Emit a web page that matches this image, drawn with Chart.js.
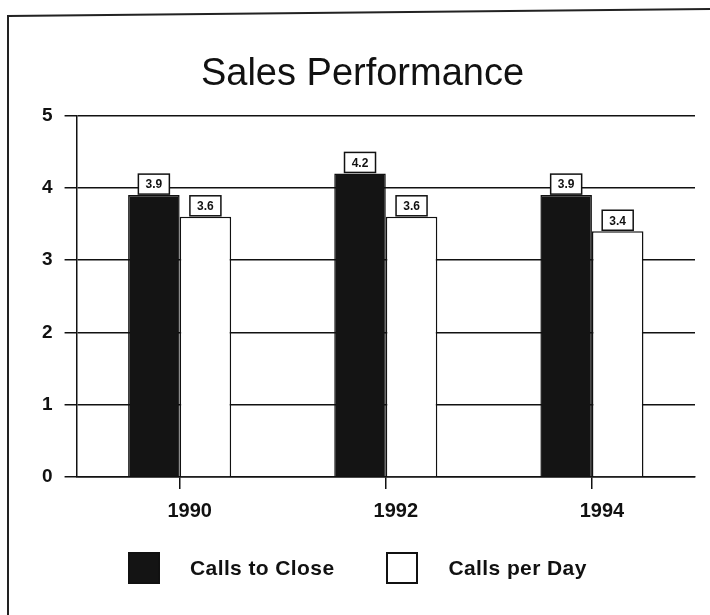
<!DOCTYPE html>
<html lang="en">
<head>
    <meta charset="UTF-8">
    <title>Sales Performance</title>
    <script src="https://cdnjs.cloudflare.com/ajax/libs/Chart.js/4.4.1/chart.umd.min.js"></script>
    <style>
        body {
            margin: 0;
            padding: 0;
            background: #ffffff;
            font-family: "Liberation Sans", Arial, sans-serif;
        }
        .wrap {
            position: relative;
            width: 710px;
            height: 615px;
        }
        .legend {
            position: absolute;
            top: 553px;
            left: 128px;
            display: flex;
            align-items: center;
            font-size: 21px;
            font-weight: bold;
            letter-spacing: 0.4px;
            color: #111;
        }
        .legend .item {
            display: flex;
            align-items: center;
            height: 30px;
        }
        .legend .item + .item {
            margin-left: 52px;
        }
        .legend .swatch {
            width: 28px;
            height: 28px;
            border: 2px solid #111;
            margin-right: 30px;
        }
    </style>
</head>
<body>
    <div class="wrap">
        <canvas id="salesChart" width="710" height="615"></canvas>
        <div class="legend" id="legend"></div>
    </div>

    <script>
        // chart data
        const years = ['1990', '1992', '1994'];
        const callsToClose = [3.9, 4.2, 3.9];
        const callsPerDay = [3.6, 3.6, 3.4];
        const yTicks = [0, 1, 2, 3, 4, 5];

        const seriesNames = ['Calls to Close', 'Calls per Day'];
        const seriesFill = ['#141414', '#ffffff'];

        // page frame (left + top edge of the scanned sheet)
        const framePlugin = {
            id: 'frame',
            beforeDraw(chart) {
                const ctx = chart.ctx;
                ctx.save();
                ctx.strokeStyle = '#222';
                ctx.lineWidth = 2;
                ctx.beginPath();
                ctx.moveTo(8, 615);
                ctx.lineTo(8, 16);
                ctx.lineTo(710, 9);
                ctx.stroke();
                ctx.restore();
            }
        };

        // boxed value labels above each bar
        const valueBoxes = {
            id: 'valueBoxes',
            afterDatasetsDraw(chart) {
                const ctx = chart.ctx;
                ctx.save();
                ctx.font = 'bold 12px "Liberation Sans", Arial, sans-serif';
                ctx.textAlign = 'center';
                ctx.textBaseline = 'middle';
                chart.data.datasets.forEach((ds, i) => {
                    chart.getDatasetMeta(i).data.forEach((bar, j) => {
                        const w = 31, h = 20;
                        const x = bar.x - w / 2;
                        const y = bar.y - h - 1;
                        ctx.fillStyle = '#fff';
                        ctx.fillRect(x, y, w, h);
                        ctx.strokeStyle = '#111';
                        ctx.lineWidth = 1.5;
                        ctx.strokeRect(x, y, w, h);
                        ctx.fillStyle = '#111';
                        ctx.fillText(ds.data[j].toFixed(1), bar.x, y + h / 2 + 1);
                    });
                });
                ctx.restore();
            }
        };

        const ctx = document.getElementById('salesChart').getContext('2d');
        new Chart(ctx, {
            type: 'bar',
            data: {
                labels: years,
                datasets: [
                    {
                        label: seriesNames[0],
                        data: callsToClose,
                        backgroundColor: seriesFill[0],
                        borderColor: '#111',
                        borderWidth: 1.5
                    },
                    {
                        label: seriesNames[1],
                        data: callsPerDay,
                        backgroundColor: seriesFill[1],
                        borderColor: '#111',
                        borderWidth: 1.5
                    }
                ]
            },
            options: {
                responsive: false,
                animation: false,
                categoryPercentage: 0.5,
                barPercentage: 1.0,
                layout: {
                    padding: { top: 52, right: 15, bottom: 82, left: 30 }
                },
                plugins: {
                    legend: { display: false },
                    tooltip: { enabled: false },
                    title: {
                        display: true,
                        text: 'Sales Performance',
                        color: '#111',
                        font: { family: '"Liberation Sans", Arial, sans-serif', size: 38, weight: 'normal' },
                        padding: { top: 0, bottom: 18 }
                    }
                },
                scales: {
                    x: {
                        border: { display: true, color: '#111', width: 1.5 },
                        grid: {
                            offset: false,
                            drawOnChartArea: false,
                            drawTicks: true,
                            tickLength: 12,
                            color: '#111',
                            lineWidth: 1.5
                        },
                        ticks: {
                            color: '#111',
                            padding: 10,
                            labelOffset: 10,
                            font: { family: '"Liberation Sans", Arial, sans-serif', size: 20, weight: 'bold' }
                        }
                    },
                    y: {
                        min: 0,
                        max: 5,
                        afterBuildTicks(axis) {
                            axis.ticks = yTicks.map(v => ({ value: v }));
                        },
                        border: { display: true, color: '#111', width: 1.5 },
                        grid: {
                            color: '#111',
                            lineWidth: 1.5,
                            tickLength: 12
                        },
                        ticks: {
                            color: '#111',
                            padding: 12,
                            font: { family: '"Liberation Sans", Arial, sans-serif', size: 19, weight: 'bold' }
                        }
                    }
                }
            },
            plugins: [framePlugin, valueBoxes]
        });

        // legend built from the series names
        const legend = document.getElementById('legend');
        seriesNames.forEach((name, i) => {
            const item = document.createElement('div');
            item.className = 'item';
            item.innerHTML = '<div class="swatch" style="background:' + seriesFill[i] + '"></div>' + name;
            legend.appendChild(item);
        });
    </script>
</body>
</html>
